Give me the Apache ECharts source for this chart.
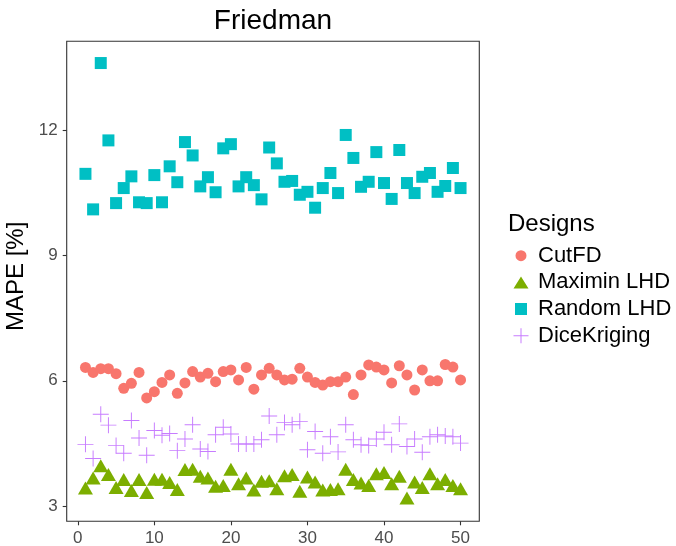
<!DOCTYPE html>
<html><head><meta charset="utf-8">
<script src="https://cdn.jsdelivr.net/npm/echarts@6/dist/echarts.min.js"></script>
<style>html,body{margin:0;padding:0;background:#fff}#c{width:676px;height:546px}</style>
</head><body><div id="c"></div>
<script>
var runs = [];
for (var i = 1; i <= 50; i++) runs.push(i);
var xTicks = [0, 10, 20, 30, 40, 50];
var yTicks = [3, 6, 9, 12];
var seriesNames = ['CutFD', 'Maximin LHD', 'Random LHD', 'DiceKriging'];
var cutfd = [6.32,6.20,6.29,6.29,6.17,5.82,5.94,6.20,5.59,5.74,5.96,6.14,5.70,5.95,6.22,6.09,6.18,5.98,6.22,6.26,6.02,6.32,5.80,6.14,6.30,6.14,6.02,6.04,6.30,6.09,5.96,5.90,5.98,5.98,6.09,5.67,6.14,6.38,6.33,6.26,5.95,6.36,6.14,5.78,6.26,6.00,6.00,6.39,6.33,6.02];
var maximin = [3.39,3.63,3.92,3.71,3.40,3.59,3.33,3.59,3.28,3.60,3.60,3.52,3.35,3.83,3.84,3.67,3.63,3.43,3.45,3.84,3.49,3.63,3.34,3.55,3.56,3.37,3.68,3.71,3.31,3.65,3.53,3.34,3.35,3.37,3.84,3.59,3.51,3.45,3.73,3.76,3.49,3.67,3.15,3.53,3.40,3.73,3.49,3.59,3.45,3.37];
var randomLhd = [10.95,10.10,13.60,11.75,10.25,10.61,10.89,10.27,10.25,10.92,10.27,11.13,10.75,11.71,11.39,10.65,10.87,10.51,11.56,11.66,10.65,10.87,10.68,10.34,11.58,11.20,10.76,10.78,10.45,10.52,10.14,10.61,10.97,10.49,11.88,11.33,10.64,10.76,11.47,10.73,10.35,11.52,10.73,10.49,10.88,10.97,10.52,10.66,11.09,10.61];
var dice = [4.48,4.14,5.20,4.94,4.45,4.27,5.05,4.63,4.22,4.81,4.70,4.74,4.33,4.61,4.95,4.37,4.31,4.71,4.89,4.73,4.49,4.49,4.49,4.59,5.16,4.71,5.00,4.95,5.03,4.35,4.79,4.27,4.66,4.30,4.95,4.59,4.47,4.45,4.61,4.77,4.47,4.97,4.43,4.61,4.29,4.66,4.71,4.68,4.66,4.51];

var colors = ['#F8766D', '#7CAE00', '#00BFC4', '#C77CFF'];
var FONT = 'Liberation Sans, Arial, sans-serif';
var crossPath = 'path://M-0.06,-1H0.06V1H-0.06Z M-1,-0.06H1V0.06H-1Z';
var pad = 'M0,0h0.01v0.01h-0.01Z M24,16h-0.01v-0.01h0.01Z ';
var legendIcons = [
  'path://' + pad + 'M12,2.5 A5.5,5.5 0 1 1 11.99,2.5 Z',
  'path://' + pad + 'M12,2 L19.5,14 L4.5,14 Z',
  'path://' + pad + 'M6,2H18V14H6Z',
  'path://' + pad + 'M11.5,0.5H12.5V15.5H11.5Z M4.5,7.5H19.5V8.5H4.5Z'
];
function pts(arr) { return arr.map(function (v, k) { return [runs[k], v]; }); }
var allData = [cutfd, maximin, randomLhd, dice];
var symbols = ['circle', 'triangle', 'rect', crossPath];
var sizes = [11, [15, 13], 12, 16];
var offsets = [[0,0], [0,-2], [0,0], [0,0]];

var chart = echarts.init(document.getElementById('c'), null, {renderer: 'canvas'});
chart.setOption({
  animation: false,
  backgroundColor: '#ffffff',
  title: [
    {text: 'Friedman', left: 273, top: 7, padding: 0, textAlign: 'center',
     textStyle: {fontFamily: FONT, fontSize: 28, fontWeight: 'normal', color: '#000'}},
    {text: 'Designs', left: 508, top: 212, padding: 0,
     textStyle: {fontFamily: FONT, fontSize: 24, fontWeight: 'normal', color: '#000'}}
  ],
  legend: {
    orient: 'vertical', left: 509, top: 244.7, padding: 0,
    itemWidth: 24, itemHeight: 16, itemGap: 4.7,
    textStyle: {fontFamily: FONT, fontSize: 22, color: '#000'},
    data: seriesNames.map(function (n, k) { return {name: n, icon: legendIcons[k]}; })
  },
  grid: {left: 66.7, right: 196.7, top: 41.3, bottom: 24.7, show: true, outerBoundsMode: 'none', containLabel: false,
         borderColor: '#333333', borderWidth: 1.1, backgroundColor: '#fff'},
  xAxis: {
    type: 'value', min: -1.45, max: 52.45,
    axisLine: {show: false, onZero: false},
    splitLine: {show: false},
    axisTick: {show: true, length: 4, customValues: xTicks, lineStyle: {color: '#333333', width: 1.1}},
    axisLabel: {customValues: xTicks, margin: 9, fontFamily: FONT, fontSize: 17, color: '#4D4D4D'}
  },
  yAxis: {
    type: 'value', min: 2.64, max: 14.12,
    name: 'MAPE [%]', nameLocation: 'middle', nameRotate: 90, nameGap: 22,
    nameTextStyle: {fontFamily: FONT, fontSize: 24, color: '#000', padding: [0, 0, 0, 10]},
    axisLine: {show: false, onZero: false},
    splitLine: {show: false},
    axisTick: {show: true, length: 4, customValues: yTicks, lineStyle: {color: '#333333', width: 1.1}},
    axisLabel: {customValues: yTicks, margin: 9, fontFamily: FONT, fontSize: 17, color: '#4D4D4D'}
  },
  series: seriesNames.map(function (n, k) {
    return {
      name: n, type: 'scatter', data: pts(allData[k]),
      symbol: symbols[k], symbolSize: sizes[k], symbolOffset: offsets[k],
      itemStyle: {color: colors[k], opacity: 1},
      emphasis: {disabled: true}
    };
  })
});
</script></body></html>
